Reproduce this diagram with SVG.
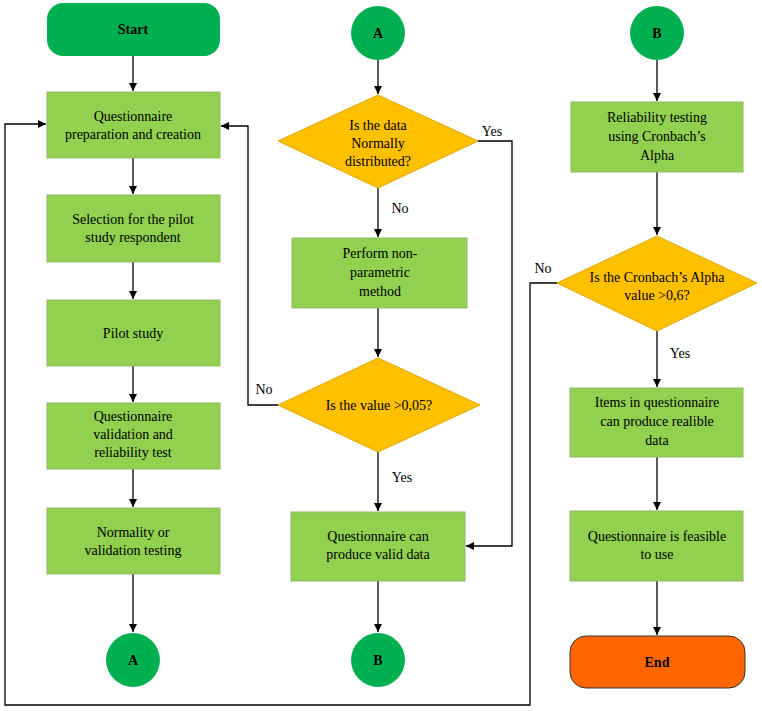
<svg xmlns="http://www.w3.org/2000/svg" width="762" height="711" viewBox="0 0 762 711">
<defs>
<marker id="ah" viewBox="0 0 10 10" refX="10" refY="5" markerWidth="8" markerHeight="8" orient="auto" markerUnits="userSpaceOnUse"><path d="M0,0 L10,5 L0,10 z" fill="#000"/></marker>
<style>
.b{fill:#92d050;stroke:#8fb86a;stroke-width:1}
.d{fill:#ffc000;stroke:#e0a800;stroke-width:1}
.c{fill:#00b050}
.t{font-family:"Liberation Serif",serif;font-size:14px;fill:#000;text-anchor:middle}
.bold{font-weight:bold}
.l{fill:none;stroke:#000;stroke-width:1.3;marker-end:url(#ah)}
.p{fill:none;stroke:#000;stroke-width:1.3}
</style>
</defs>
<rect width="762" height="711" fill="#fff"/>
<g id="connectors">
<line class="l" x1="133" y1="56" x2="133" y2="91"/>
<line class="l" x1="133" y1="158" x2="133" y2="194"/>
<line class="l" x1="133" y1="262" x2="133" y2="299"/>
<line class="l" x1="133" y1="366" x2="133" y2="402"/>
<line class="l" x1="133" y1="469" x2="133" y2="507"/>
<line class="l" x1="133" y1="574" x2="133" y2="632"/>
<line class="l" x1="378" y1="60" x2="378" y2="94"/>
<line class="l" x1="378" y1="188" x2="378" y2="237"/>
<line class="l" x1="378" y1="308" x2="378" y2="357"/>
<line class="l" x1="378" y1="452" x2="378" y2="511"/>
<line class="l" x1="378" y1="581" x2="378" y2="632"/>
<polyline class="l" points="478,141 512,141 512,546 466,546"/>
<polyline class="l" points="278,405 248,405 248,126 221,126"/>
<line class="l" x1="657" y1="60" x2="657" y2="101"/>
<line class="l" x1="657" y1="172" x2="657" y2="235"/>
<line class="l" x1="657" y1="331" x2="657" y2="387"/>
<line class="l" x1="657" y1="457" x2="657" y2="510"/>
<line class="l" x1="657" y1="581" x2="657" y2="635"/>
<polyline class="l" points="557,283 530,283 530,705 5,705 5,124 46,124"/>
<text class="t" x="492" y="136">Yes</text>
<text class="t" x="400" y="213">No</text>
<text class="t" x="264" y="394">No</text>
<text class="t" x="402" y="482">Yes</text>
<text class="t" x="543" y="273">No</text>
<text class="t" x="680" y="358">Yes</text>
</g>
<g id="start"><rect x="47" y="3" width="173" height="53" rx="16" class="c"/><text class="t bold" x="133" y="34">Start</text></g>
<g id="prep"><rect class="b" x="47" y="92" width="173" height="66"/><text class="t" x="133" y="121">Questionnaire</text><text class="t" x="133" y="139">preparation and creation</text></g>
<g id="select"><rect class="b" x="47" y="195" width="173" height="67"/><text class="t" x="133" y="224">Selection for the pilot</text><text class="t" x="133" y="242">study respondent</text></g>
<g id="pilot"><rect class="b" x="47" y="300" width="173" height="66"/><text class="t" x="133" y="338">Pilot study</text></g>
<g id="valid"><rect class="b" x="47" y="403" width="173" height="66"/><text class="t" x="133" y="421">Questionnaire</text><text class="t" x="133" y="439">validation and</text><text class="t" x="133" y="457">reliability test</text></g>
<g id="normal"><rect class="b" x="47" y="508" width="173" height="66"/><text class="t" x="133" y="537">Normality or</text><text class="t" x="133" y="555">validation testing</text></g>
<g id="circleA1"><circle class="c" cx="133" cy="660" r="27"/><text class="t bold" x="133" y="665">A</text></g>
<g id="circleA2"><circle class="c" cx="378" cy="33" r="27"/><text class="t bold" x="378" y="38">A</text></g>
<g id="d1"><polygon class="d" points="378,95 478,141 378,188 278,141"/><text class="t" x="378" y="130">Is the data</text><text class="t" x="378" y="148">Normally</text><text class="t" x="378" y="166">distributed?</text></g>
<g id="nonparam"><rect class="b" x="292" y="238" width="175" height="70"/><text class="t" x="380" y="258">Perform non-</text><text class="t" x="380" y="277">parametric</text><text class="t" x="380" y="296">method</text></g>
<g id="d2"><polygon class="d" points="378,358 480,405 378,452 278,405"/><text class="t" x="379" y="410">Is the value &gt;0,05?</text></g>
<g id="validdata"><rect class="b" x="291" y="512" width="174" height="69"/><text class="t" x="378" y="541">Questionnaire can</text><text class="t" x="378" y="559">produce valid data</text></g>
<g id="circleB1"><circle class="c" cx="378" cy="660" r="27"/><text class="t bold" x="378" y="665">B</text></g>
<g id="circleB2"><circle class="c" cx="657" cy="33" r="27"/><text class="t bold" x="657" y="38">B</text></g>
<g id="reliab"><rect class="b" x="571" y="102" width="172" height="70"/><text class="t" x="657" y="122">Reliability testing</text><text class="t" x="657" y="141">using Cronbach’s</text><text class="t" x="657" y="160">Alpha</text></g>
<g id="d3"><polygon class="d" points="657,236 757,283 657,331 557,283"/><text class="t" x="657" y="282">Is the Cronbach’s Alpha</text><text class="t" x="657" y="300">value &gt;0,6?</text></g>
<g id="items"><rect class="b" x="570" y="388" width="173" height="69"/><text class="t" x="657" y="407">Items in questionnaire</text><text class="t" x="657" y="426">can produce realible</text><text class="t" x="657" y="445">data</text></g>
<g id="feasible"><rect class="b" x="570" y="511" width="173" height="70"/><text class="t" x="657" y="541">Questionnaire is feasible</text><text class="t" x="657" y="559">to use</text></g>
<g id="end"><rect x="570" y="636" width="175" height="52" rx="16" fill="#ff6600" stroke="#333" stroke-width="1"/><text class="t bold" x="657" y="667">End</text></g>
</svg>
